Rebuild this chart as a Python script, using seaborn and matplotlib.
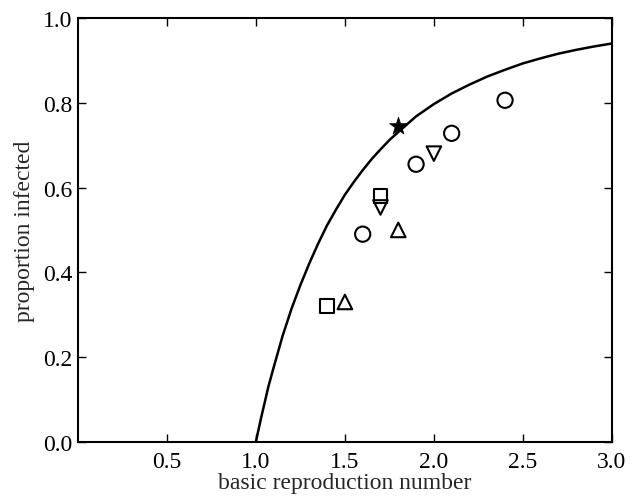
import numpy as np
import pandas as pd
import seaborn as sns
from matplotlib import pyplot as plt

# theoretical final-size curve
curve_r0 = [1.0, 1.01, 1.02, 1.03, 1.05, 1.07, 1.1, 1.15, 1.2, 1.25, 1.3,
            1.35, 1.4, 1.45, 1.5, 1.55, 1.6, 1.65, 1.7, 1.75, 1.8, 1.9, 2.0,
            2.1, 2.2, 2.3, 2.4, 2.5, 2.6, 2.7, 2.8, 2.9, 3.0]
curve_z = [0.0, 0.020, 0.039, 0.058, 0.094, 0.130, 0.176, 0.250, 0.314,
           0.370, 0.421, 0.468, 0.511, 0.548, 0.583, 0.613, 0.641, 0.667,
           0.690, 0.712, 0.731, 0.768, 0.797, 0.822, 0.843, 0.862, 0.878,
           0.893, 0.905, 0.916, 0.925, 0.933, 0.940]

# observed outbreaks
square_r0 = [1.4, 1.7]
square_z = [0.32, 0.58]
tri_up_r0 = [1.5, 1.8]
tri_up_z = [0.33, 0.50]
tri_down_r0 = [1.7, 2.0]
tri_down_z = [0.553, 0.68]
circle_r0 = [1.6, 1.9, 2.1, 2.4]
circle_z = [0.49, 0.655, 0.728, 0.806]
star_r0 = [1.8]
star_z = [0.745]

x_ticks = [0.5, 1.0, 1.5, 2.0, 2.5, 3.0]
y_ticks = [0.0, 0.2, 0.4, 0.6, 0.8, 1.0]


def main():
    sns.set_style("ticks")
    plt.rcParams['font.family'] = ['Liberation Serif', 'DejaVu Serif']

    fig, ax = plt.subplots(figsize=(6.34, 5.02), dpi=100)
    fig.subplots_adjust(left=0.123, right=0.965, top=0.962, bottom=0.118)

    sns.lineplot(x=curve_r0, y=curve_z, ax=ax, color='black', lw=1.8)

    groups = [
        (square_r0, square_z, 's', 100),
        (tri_up_r0, tri_up_z, '^', 110),
        (tri_down_r0, tri_down_z, 'v', 110),
        (circle_r0, circle_z, 'o', 120),
    ]
    for xs, ys, m, s in groups:
        sns.scatterplot(x=xs, y=ys, ax=ax, marker=m, s=s, facecolors='none',
                        edgecolor='black', linewidth=1.5, zorder=3)
    sns.scatterplot(x=star_r0, y=star_z, ax=ax, marker='*', s=180,
                    color='black', edgecolor='black', linewidth=0.5, zorder=3)

    ax.set_xlim(0, 3.0)
    ax.set_ylim(0, 1.0)
    ax.set_xticks(x_ticks)
    ax.set_yticks(y_ticks)
    ax.set_xticklabels(["{:.1f}".format(v) for v in x_ticks])
    ax.set_yticklabels(["{:.1f}".format(v) for v in y_ticks])
    ax.tick_params(direction='in', top=True, right=True, length=6, width=1,
                   labelsize=17, colors='black')
    ax.tick_params(axis='x', pad=7)
    ax.tick_params(axis='y', pad=4)
    for sp in ax.spines.values():
        sp.set_linewidth(1.5)
        sp.set_color('black')
    ax.set_xlabel("basic reproduction number", fontsize=17, labelpad=0)
    ax.set_ylabel("proportion infected", fontsize=17, labelpad=6)

    fig.savefig("out.png", dpi=100)


if __name__ == '__main__':
    main()
